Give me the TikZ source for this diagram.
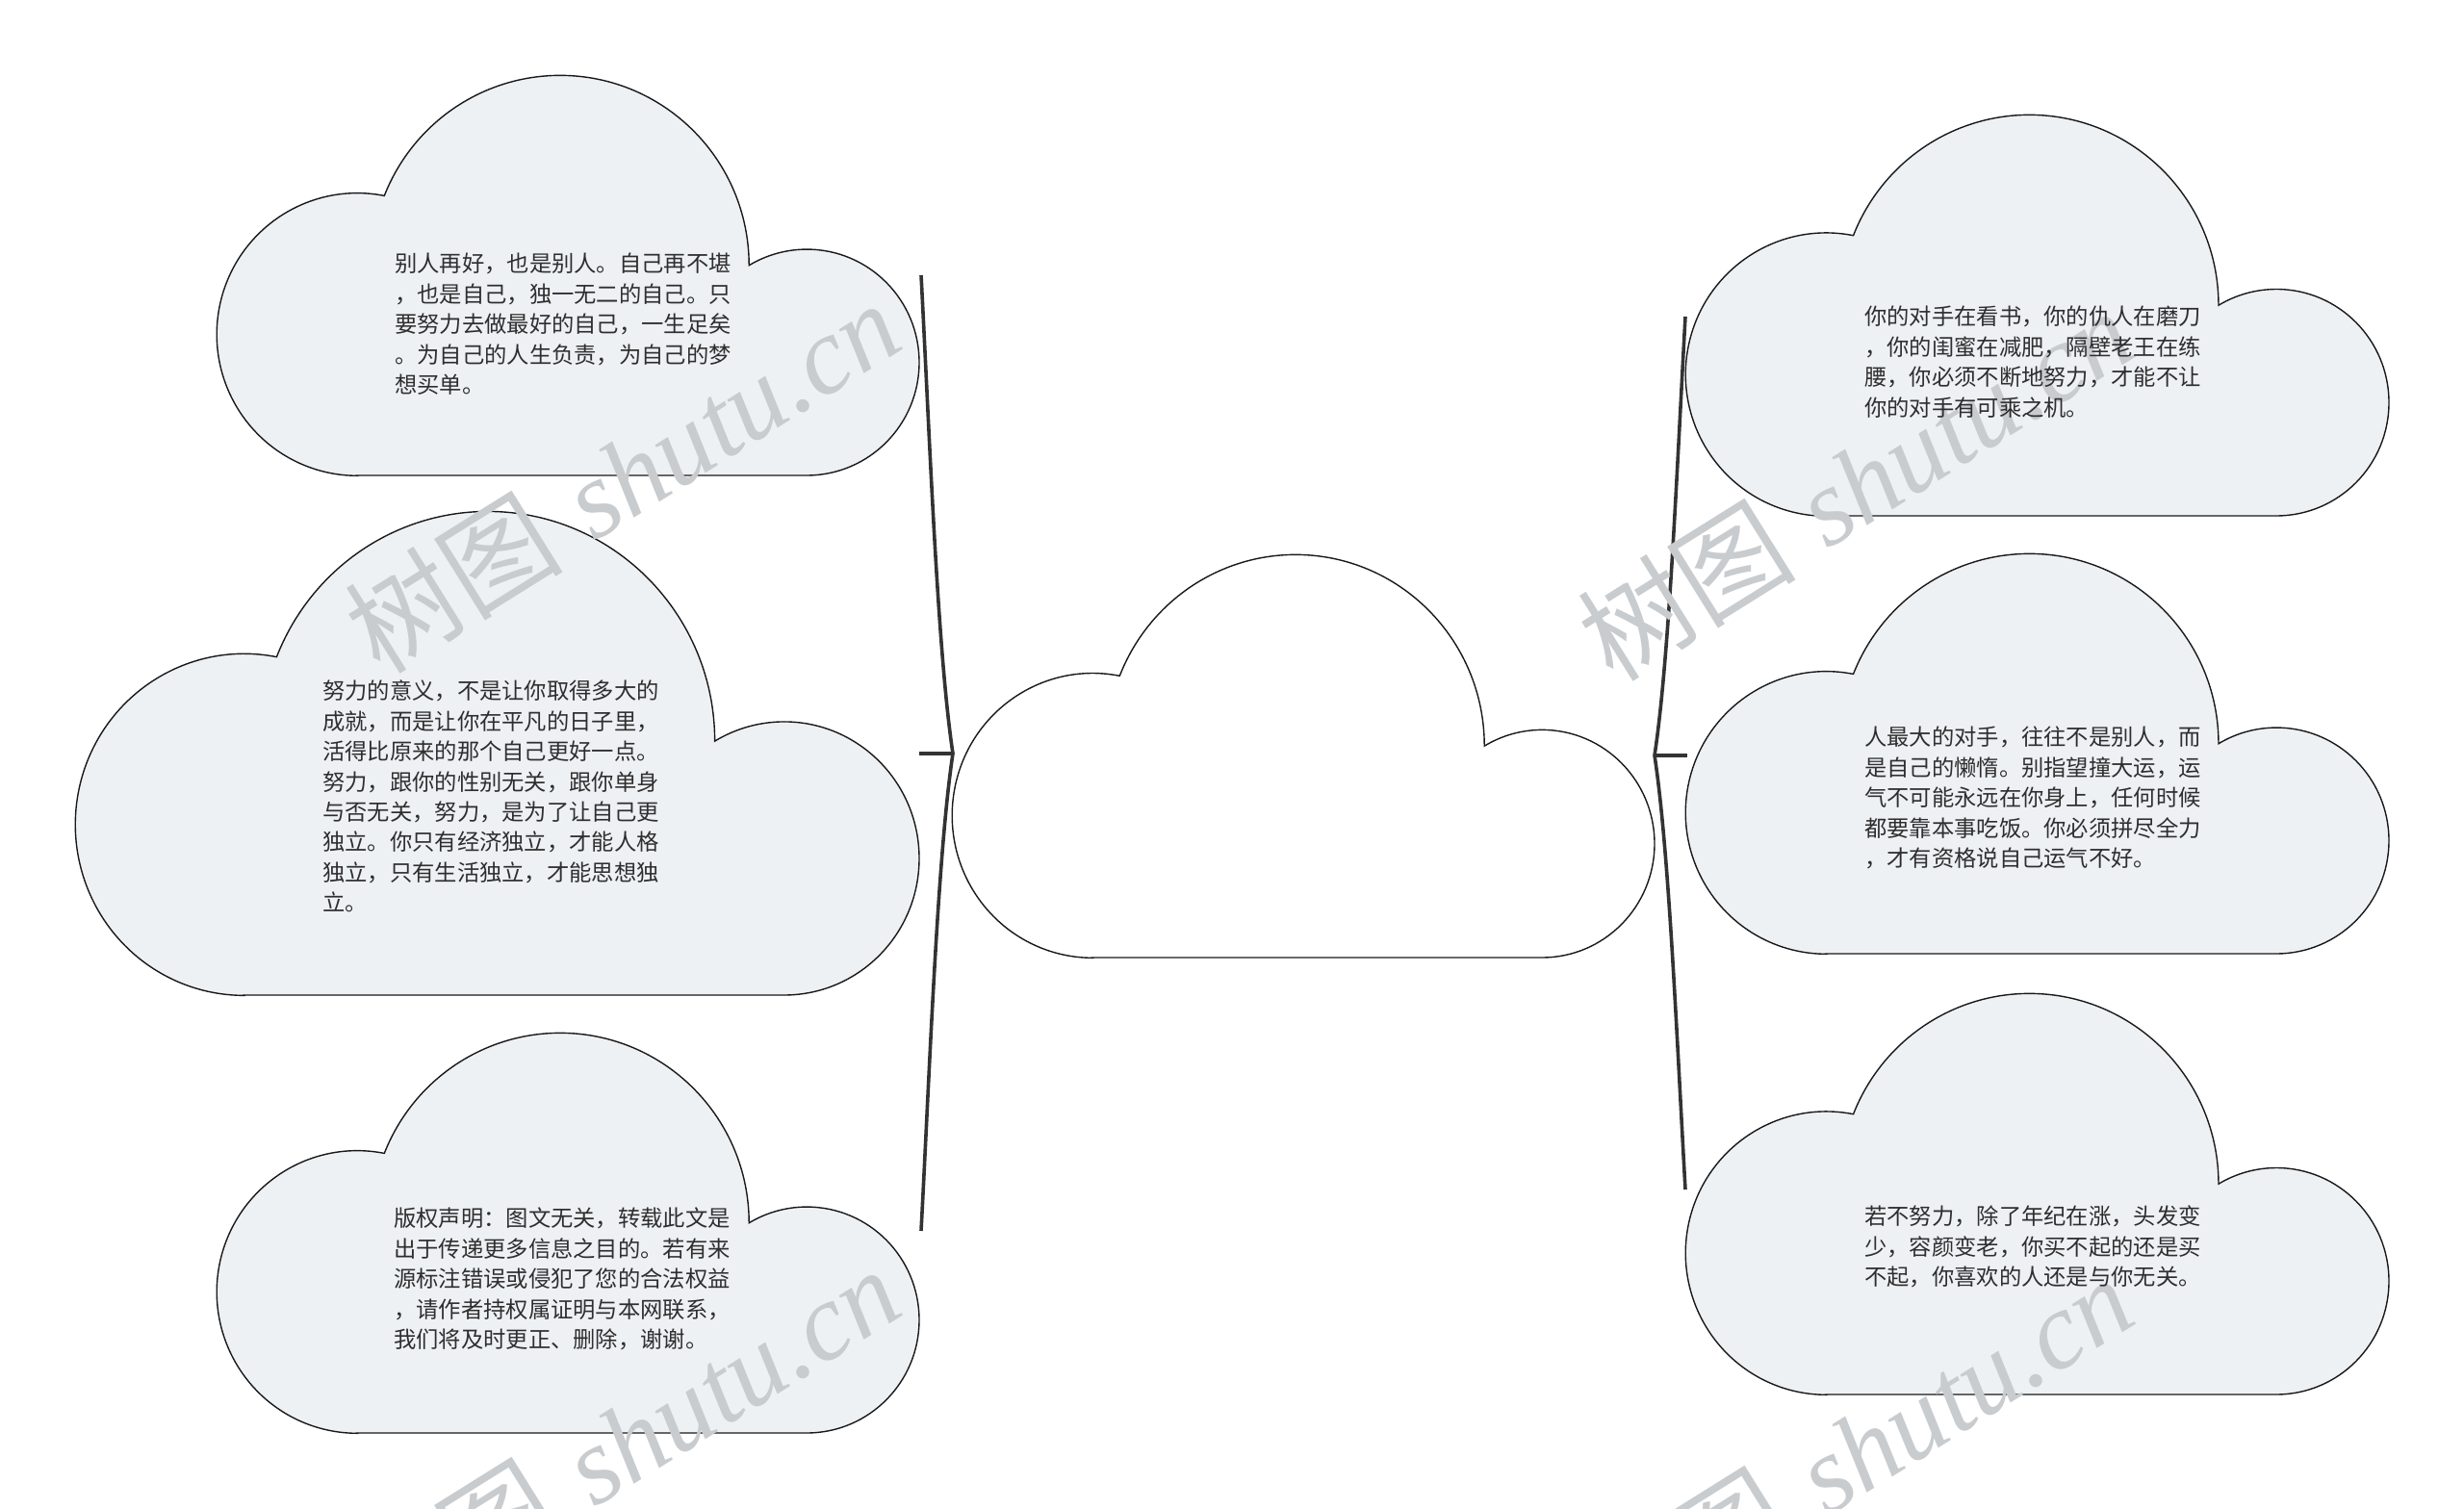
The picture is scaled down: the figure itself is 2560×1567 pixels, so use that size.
\documentclass[tikz,border=0pt]{standalone}
\usepackage{fontspec}
\newfontfamily\cjk{Noto Sans CJK SC}
\newfontfamily\wmserif{Liberation Serif}
\definecolor{cloudfill}{HTML}{EEF1F4}
\definecolor{txtcol}{HTML}{2E2E2E}
\definecolor{wmcol}{HTML}{C9CCCF}
\definecolor{bracecol}{HTML}{333333}
\tikzset{
  cloudline/.style={draw=black!90, line width=1.4pt},
  bracelink/.style={draw=bracecol, line width=3.6pt},
  bodytext/.style={inner sep=0pt, anchor=north west, align=left, text=txtcol, font=\cjk\fontsize{23.3}{31.4}\selectfont},
  watermark/.style={inner sep=0pt, rotate=32, text=wmcol, font=\fontsize{114}{114}\selectfont},
}
% #1 name, #2 left x, #3 bottom y, #4 width, #5 height, #6 fill
\newcommand{\cloudshape}[6]{%
  \begin{scope}[shift={(#2,#3)},xscale=#4/450,yscale=#5/255]
    \draw[cloudline,fill=#6] (90,0) -- (378,0)
      arc[start angle=-90,end angle=120.9,radius=72]
      arc[start angle=0,end angle=158.5,radius=121]
      arc[start angle=78.9,end angle=270,radius=90] -- cycle;
    \coordinate (#1) at (225,127.5);
  \end{scope}}
\begin{document}
\begin{tikzpicture}[x=1pt,y=1pt]
\useasboundingbox (0,0) rectangle (2560,1567);
\fill[white] (0,0) rectangle (2560,1567);

% clouds
\cloudshape{tl}{225}{1073}{730}{416}{cloudfill}
\cloudshape{ml}{78}{533}{877}{503}{cloudfill}
\cloudshape{bl}{225}{78}{730}{416}{cloudfill}
\cloudshape{ctr}{989}{572}{730}{419}{white}
\cloudshape{tr}{1751}{1031}{731}{417}{cloudfill}
\cloudshape{mr}{1751}{576}{731}{416}{cloudfill}
\cloudshape{br}{1751}{118}{731}{417}{cloudfill}

% brace connectors
\coordinate (lTop) at (957,1281);
\coordinate (lTip) at (990,784);
\coordinate (lBot) at (957,288);
\coordinate (lTick) at (955,784);
\coordinate (rTop) at (1751,1238);
\coordinate (rTip) at (1719,782);
\coordinate (rBot) at (1751,331);
\coordinate (rTick) at (1753,782);
\draw[bracelink] (lTop) .. controls (966,1110) and (974,890) .. (lTip) .. controls (974,678) and (966,458) .. (lBot);
\draw[bracelink] (lTick) -- (lTip);
\draw[bracelink] (rTop) .. controls (1742,1075) and (1734,880) .. (rTip) .. controls (1734,684) and (1742,490) .. (rBot);
\draw[bracelink] (rTip) -- (rTick);

% watermarks
\node[watermark] (wm1) at (646,1072) {{\cjk 树图} {\wmserif\itshape shutu.cn}};
\node[watermark] (wm2) at (1927,1064) {{\cjk 树图} {\wmserif\itshape shutu.cn}};
\node[watermark] (wm3) at (646,68) {{\cjk 树图} {\wmserif\itshape shutu.cn}};
\node[watermark] (wm4) at (1927,59) {{\cjk 树图} {\wmserif\itshape shutu.cn}};

% texts
\node[bodytext] (tltext) at (410,1304) {别人再好，也是别人。自己再不堪\\，也是自己，独一无二的自己。只\\要努力去做最好的自己，一生足矣\\。为自己的人生负责，为自己的梦\\想买单。};
\node[bodytext] (mltext) at (335,860) {努力的意义，不是让你取得多大的\\成就，而是让你在平凡的日子里，\\活得比原来的那个自己更好一点。\\努力，跟你的性别无关，跟你单身\\与否无关，努力，是为了让自己更\\独立。你只有经济独立，才能人格\\独立，只有生活独立，才能思想独\\立。};
\node[bodytext] (bltext) at (409,312) {版权声明：图文无关，转载此文是\\出于传递更多信息之目的。若有来\\源标注错误或侵犯了您的合法权益\\，请作者持权属证明与本网联系，\\我们将及时更正、删除，谢谢。};
\node[bodytext] (trtext) at (1937,1249) {你的对手在看书，你的仇人在磨刀\\，你的闺蜜在减肥，隔壁老王在练\\腰，你必须不断地努力，才能不让\\你的对手有可乘之机。};
\node[bodytext] (mrtext) at (1937,812) {人最大的对手，往往不是别人，而\\是自己的懒惰。别指望撞大运，运\\气不可能永远在你身上，任何时候\\都要靠本事吃饭。你必须拼尽全力\\，才有资格说自己运气不好。};
\node[bodytext] (brtext) at (1937,314) {若不努力，除了年纪在涨，头发变\\少，容颜变老，你买不起的还是买\\不起，你喜欢的人还是与你无关。};
\end{tikzpicture}
\end{document}
